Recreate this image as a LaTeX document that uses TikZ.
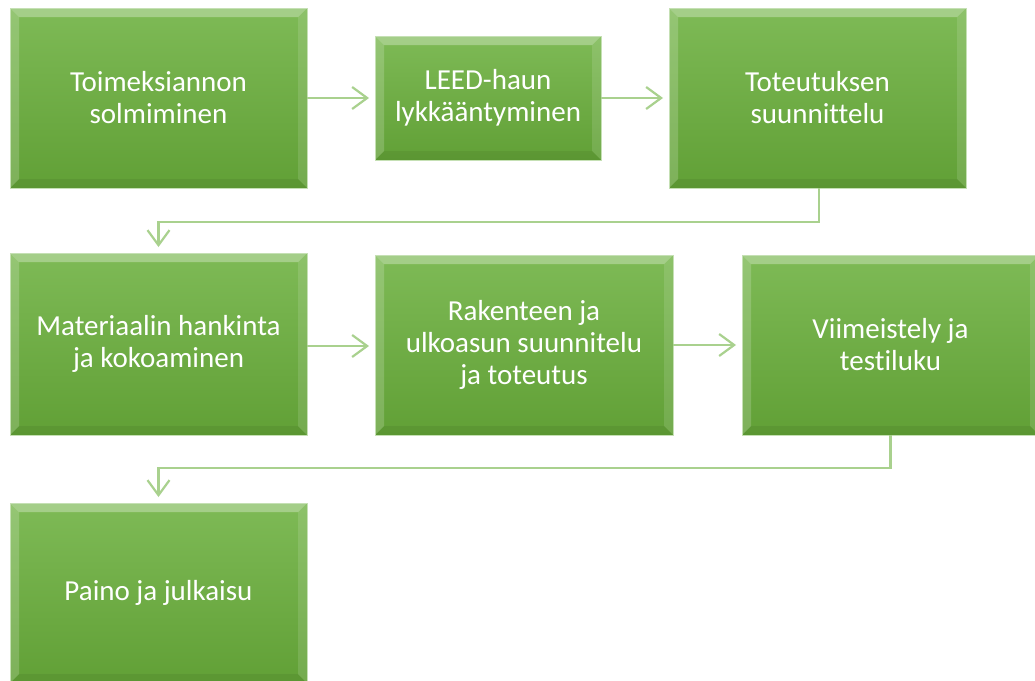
\documentclass[tikz,border=0pt]{standalone}
\usepackage{fontspec}
\setmainfont[Ligatures=NoCommon]{Carlito}
\usetikzlibrary{arrows.meta}
\definecolor{gtop}{RGB}{126,186,86}
\definecolor{gbot}{RGB}{97,160,54}
\definecolor{gedge}{RGB}{197,224,180}
\definecolor{conncol}{RGB}{169,209,142}
\tikzset{
  gbox/.style={rectangle, inner sep=0pt, outer sep=0pt,
    minimum width=297pt, minimum height=180pt,
    top color=gtop, bottom color=gbot, draw=gedge, line width=1pt,
    text=white, align=center, font=\fontsize{29}{32}\selectfont,
    path picture={
      \fill[white,opacity=.30] (path picture bounding box.north west) -- (path picture bounding box.north east)
        -- ([xshift=-9pt,yshift=-9pt]path picture bounding box.north east) -- ([xshift=9pt,yshift=-9pt]path picture bounding box.north west) -- cycle;
      \fill[white,opacity=.18] (path picture bounding box.north west) -- (path picture bounding box.south west)
        -- ([xshift=9pt,yshift=9pt]path picture bounding box.south west) -- ([xshift=9pt,yshift=-9pt]path picture bounding box.north west) -- cycle;
      \fill[white,opacity=.12] (path picture bounding box.north east) -- (path picture bounding box.south east)
        -- ([xshift=-9pt,yshift=9pt]path picture bounding box.south east) -- ([xshift=-9pt,yshift=-9pt]path picture bounding box.north east) -- cycle;
      \fill[black,opacity=.06] (path picture bounding box.south west) -- (path picture bounding box.south east)
        -- ([xshift=-9pt,yshift=9pt]path picture bounding box.south east) -- ([xshift=9pt,yshift=9pt]path picture bounding box.south west) -- cycle;
    }},
  conn/.style={draw=conncol, line width=2.4pt,
    -{Straight Barb[length=15pt,width=22pt,line width=2.2pt]}, shorten >=6pt}
}
\begin{document}
\begin{tikzpicture}[x=1pt,y=-1pt]
\useasboundingbox (0,0) rectangle (1035,680);
\clip (0,0) rectangle (1035,680);
\fill[white] (0,0) rectangle (1035,680);
\node[gbox] (b1) at (158.5,98) {Toimeksiannon\\solmiminen};
\node[gbox, minimum width=226pt, minimum height=124pt] (b2) at (488,98) {LEED-haun\\lykkääntyminen};
\node[gbox] (b3) at (817.5,98) {Toteutuksen\\suunnittelu};
\node[gbox, minimum height=182pt] (b4) at (158.5,344) {Materiaalin hankinta\\ja kokoaminen};
\node[gbox, minimum width=298pt] (b5) at (524,345) {Rakenteen ja\\ulkoasun suunnitelu\\ja toteutus};
\node[gbox] (b6) at (890.5,345) {Viimeistely ja\\testiluku};
\node[gbox] (b7) at (158.5,593) {Paino ja julkaisu};
\draw[conn] (b1.east) -- (b2.west);
\draw[conn] (b2.east) -- (b3.west);
\draw[conn] ([xshift=1.5pt]b3.south) -- ++(0,34) -| (b4.north);
\draw[conn] ([yshift=-2pt]b4.east) -- ([yshift=-2pt]b4.east -| b5.west);
\draw[conn] (b5.east) -- (b6.west);
\draw[conn] (b6.south) -- ++(0,33) -| (b7.north);
\end{tikzpicture}
\end{document}
